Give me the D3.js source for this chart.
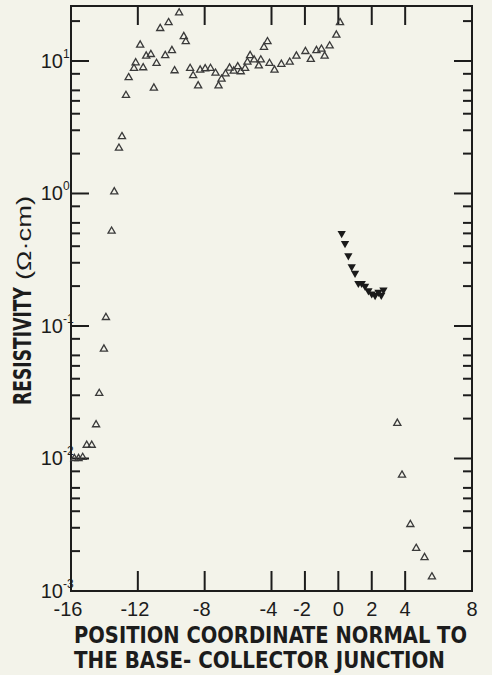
<!DOCTYPE html>
<html><head><meta charset="utf-8">
<script src="https://cdn.jsdelivr.net/npm/d3@7"></script>
<style>
html,body{margin:0;padding:0;background:#f3f3ea;}
svg{display:block;}
</style></head>
<body>
<svg id="chart" width="492" height="675"></svg>
<script>
// ---- data ----
const openX = [-15.8,-15.55,-15.3,-15.06,-14.76,-14.5,-14.31,-14.03,-13.91,-13.57,-13.41,-13.13,-12.95,-12.71,-12.55,-12.23,-12.13,-11.86,-11.68,-11.5,-11.22,-11.04,-10.88,-10.66,-10.36,-10.16,-9.96,-9.8,-9.53,-9.25,-9.13,-8.87,-8.69,-8.39,-8.27,-7.97,-7.65,-7.35,-7.17,-6.99,-6.75,-6.51,-6.26,-6.02,-5.84,-5.58,-5.44,-5.28,-5.04,-4.76,-4.64,-4.45,-4.24,-4.12,-3.82,-3.41,-2.91,-2.51,-1.97,-1.65,-1.31,-1.01,-0.82,-0.52,-0.12,0.1,3.53,3.81,4.31,4.66,5.16,5.6];
const openY = [0.0100,0.0100,0.0102,0.0126,0.0126,0.018,0.031,0.067,0.116,0.52,1.03,2.2,2.69,5.5,7.5,8.8,9.7,13.2,8.9,10.9,11.2,6.25,9.6,17.6,11.0,19.5,12.0,8.45,23.1,15.3,14.0,8.8,7.75,6.5,8.55,8.75,8.8,8.1,6.5,7.3,8.0,8.85,8.4,9.06,8.3,8.8,9.8,11.0,10.2,9.2,10.2,12.7,14.0,9.6,8.55,9.45,9.8,10.9,11.8,10.3,12.0,12.3,10.9,13.0,15.7,19.5,0.01845,0.0075,0.00318,0.0021,0.00179,0.00128];
const filledX = [0.2,0.4,0.6,0.8,1.0,1.2,1.4,1.6,1.8,2.0,2.2,2.4,2.57,2.7];
const filledY = [0.5,0.42,0.34,0.28,0.25,0.21,0.21,0.2,0.185,0.175,0.17,0.18,0.171,0.187];
const xTicks = [-16,-12,-8,-4,-2,0,2,4,8];
const xInnerTicks = [-12,-8,-4,-2,0,2,4];
const yMajor = [1e-3,1e-2,1e-1,1,10];
const yExp = ["-3","-2","-1","0","1"];
const yMinorMult = [2,3,4,5,6,8];
const xTitle1 = "POSITION COORDINATE NORMAL TO";
const xTitle2 = "THE BASE- COLLECTOR JUNCTION";
const yTitleA = "RESISTIVITY";
const yTitleB = "(\u03A9\u00B7cm)";

// ---- layout ----
const L = 71, R = 472, T = 6, B = 591;
const x = d3.scaleLinear().domain([-16, 8]).range([L, R]);
const y = d3.scaleLog().domain([1e-3, 26]).range([B, T]);

const svg = d3.select("#chart");
const ink = "#1c1c1c";
const narrow = "'Liberation Sans Narrow','DejaVu Sans Condensed','Arial Narrow',sans-serif";

// minor y ticks
const minors = [];
[1e-3,1e-2,1e-1,1,10].forEach(d => yMinorMult.forEach(m => { const v = d*m; if (v <= 26) minors.push(v); }));

const g = svg.append("g");
g.selectAll("line.ymaj").data(yMajor.slice(1)).join("line")
  .attr("x1", L).attr("x2", L+18).attr("y1", d=>y(d)).attr("y2", d=>y(d))
  .attr("stroke", ink).attr("stroke-width", 2);
g.selectAll("line.ymajr").data(yMajor.slice(1)).join("line")
  .attr("x1", R).attr("x2", R-18).attr("y1", d=>y(d)).attr("y2", d=>y(d))
  .attr("stroke", ink).attr("stroke-width", 2);
g.selectAll("line.ymin").data(minors).join("line")
  .attr("x1", L).attr("x2", L+9).attr("y1", d=>y(d)).attr("y2", d=>y(d))
  .attr("stroke", ink).attr("stroke-width", 2);
g.selectAll("line.yminr").data(minors).join("line")
  .attr("x1", R).attr("x2", R-9).attr("y1", d=>y(d)).attr("y2", d=>y(d))
  .attr("stroke", ink).attr("stroke-width", 2);
g.selectAll("line.xb").data(xInnerTicks).join("line")
  .attr("x1", d=>x(d)).attr("x2", d=>x(d)).attr("y1", B).attr("y2", B-20)
  .attr("stroke", ink).attr("stroke-width", 2);
g.selectAll("line.xt").data(xInnerTicks).join("line")
  .attr("x1", d=>x(d)).attr("x2", d=>x(d)).attr("y1", T).attr("y2", T+19)
  .attr("stroke", ink).attr("stroke-width", 2);

// frame
svg.append("rect").attr("x", L).attr("y", T).attr("width", R-L).attr("height", B-T)
  .attr("fill", "none").attr("stroke", ink).attr("stroke-width", 2);

// x tick labels
svg.selectAll("text.xl").data(xTicks).join("text")
  .attr("x", d=>x(d) - (d<0 ? 3 : 0)).attr("y", 616)
  .attr("text-anchor", "middle")
  .attr("font-family", "'Liberation Sans',Arial,sans-serif").attr("font-size", 20)
  .attr("fill", ink)
  .text(d => d<0 ? "-" + Math.abs(d) : String(d));

// y tick labels
svg.selectAll("text.yl").data(yMajor).join("text")
  .attr("x", 63).attr("y", d=>y(d)+7)
  .attr("text-anchor", "end")
  .attr("font-family", "'Liberation Sans',Arial,sans-serif").attr("font-size", 20)
  .attr("fill", ink)
  .text("10");
svg.selectAll("text.ye").data(yMajor).join("text")
  .attr("x", 63).attr("y", d=>y(d)-3)
  .attr("text-anchor", "start")
  .attr("font-family", "'Liberation Sans',Arial,sans-serif").attr("font-size", 12)
  .attr("fill", ink)
  .text((d,i)=>yExp[i]);

// x title
svg.append("text").attr("x", 74).attr("y", 643)
  .attr("font-family", narrow).attr("font-weight", "bold").attr("font-size", 23)
  .attr("textLength", 393).attr("lengthAdjust", "spacingAndGlyphs")
  .attr("fill", ink).text(xTitle1);
svg.append("text").attr("x", 74).attr("y", 668)
  .attr("font-family", narrow).attr("font-weight", "bold").attr("font-size", 23)
  .attr("textLength", 371).attr("lengthAdjust", "spacingAndGlyphs")
  .attr("fill", ink).text(xTitle2);

// y title
svg.append("text").attr("transform", "translate(31,405) rotate(-90)")
  .attr("font-family", narrow).attr("font-weight", "bold").attr("font-size", 24)
  .attr("textLength", 118).attr("lengthAdjust", "spacingAndGlyphs")
  .attr("fill", ink).text(yTitleA);
svg.append("text").attr("transform", "translate(31,280) rotate(-90)")
  .attr("font-family", "'Liberation Sans',Arial,sans-serif").attr("font-size", 20)
  .attr("textLength", 84).attr("lengthAdjust", "spacingAndGlyphs")
  .attr("fill", ink).text(yTitleB);

// markers
const tri = d3.symbol().type(d3.symbolTriangle).size(22);
const openData = openX.map((v,i)=>({x:v, y:openY[i]}));
svg.append("g").selectAll("path").data(openData).join("path")
  .attr("d", tri)
  .attr("transform", d=>`translate(${x(d.x)},${y(d.y)})`)
  .attr("fill", "none").attr("stroke", "#3a3a3a").attr("stroke-width", 1.3);

const triF = d3.symbol().type(d3.symbolTriangle).size(30);
const filledData = filledX.map((v,i)=>({x:v, y:filledY[i]}));
svg.append("g").selectAll("path").data(filledData).join("path")
  .attr("d", triF)
  .attr("transform", d=>`translate(${x(d.x)},${y(d.y)}) rotate(180)`)
  .attr("fill", "#1a1a1a");
</script>
</body></html>
